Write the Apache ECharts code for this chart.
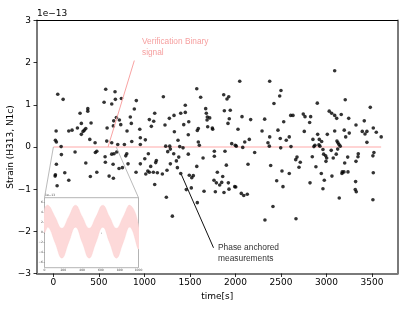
<!DOCTYPE html>
<html><head><meta charset="utf-8">
<script src="https://cdn.jsdelivr.net/npm/echarts@6/dist/echarts.min.js"></script>
<style>html,body{margin:0;padding:0;background:#fff}#c{width:415px;height:312px}</style>
</head><body><div id="c"></div>
<script>
// time [s]
const timeS = [48,107,575,677,681,557,747,641,293,378,378,692,663,725,414,307,740,659,590,264,356,340,326,205,169,30,809,307,400,458,586,22,33,641,707,780,85,238,477,461,696,
1575,1618,1208,911,889,1449,1673,845,1113,1399,1449,1680,1325,1274,1691,1717,1688,1054,1102,856,1487,1432,1076,1226,1695,1746,1750,949,1592,1581,1329,1482,955,1010,1369,861,1592,1603,955,1234,1278,1285,1388,1424,1256,1043,1322,1482,1768,
2047,2376,2500,2486,1871,1926,1907,2423,1878,1943,2072,2167,2321,2607,2632,2745,2764,2826,1932,1918,2530,2815,2028,2292,2467,2756,2376,2591,2492,2558,2152,2102,2851,2357,1959,1998,2009,2372,2080,2497,2610,2862,1885,2211,
3090,2899,3206,3481,3030,3057,3090,3112,3162,3244,3415,3324,3514,3195,3090,3250,3393,3423,3444,3547,2903,3009,3601,3211,2921,2947,3115,3126,3137,3151,3444,2873,2917,2928,3123,2961,3052,3521,3349,2969,3107,
88,568,641,666,806,795,33,356,571,656,820,758,721,125,22,19,477,406,612,659,169,41,
1004,1131,1124,1377,1351,1285,1644,1768,955,1069,1037,1054,1098,1142,1362,1575,1248,908,1015,1197,1399,1493,1537,1520,1801,1764,1790,1827,1113,1460,1515,1655,1779,1241,1581,1307,
1900,2138,2387,2676,2662,2712,2698,2844,1860,1849,1922,1929,1992,2003,1874,2064,2091,2130,2511,2591,2453,2522,2819,2412,2324,2665,
2991,3002,2994,3074,3233,3346,3510,3324,3200,2884,2943,3060,3173,3170,3192,3236,3514,2976,3320,2961,3316,3327,3140,3510];
// strain, in units of 1e-13
const strain = [1.25,1.13,1.37,1.31,1.13,1.06,1.15,1.02,0.80,0.91,0.85,0.70,0.62,0.64,0.57,0.56,0.53,0.50,0.45,0.45,0.44,0.40,0.37,0.40,0.38,0.38,0.38,0.30,0.18,0.10,0.14,0.16,0.12,0.10,0.06,0.06,0.01,-0.12,-0.10,-0.13,-0.12,
1.38,1.18,1.19,1.10,0.90,0.99,0.91,0.71,0.80,0.80,0.82,0.80,0.75,0.68,0.71,0.69,0.64,0.65,0.61,0.56,0.60,0.53,0.49,0.52,0.48,0.45,0.42,0.42,0.44,0.39,0.36,0.29,0.22,0.17,0.16,0.13,0.12,0.04,0.06,0.02,0.02,-0.05,0.01,-0.02,-0.11,-0.16,-0.16,-0.17,-0.10,
1.56,1.56,1.34,1.21,1.24,1.19,1.14,1.03,0.86,0.87,0.72,0.65,0.66,0.75,0.75,0.78,0.72,0.72,0.67,0.56,0.60,0.58,0.42,0.38,0.40,0.37,0.24,0.24,0.20,0.16,0.18,0.12,0.18,0.10,0.08,0.04,0.02,0.02,-0.01,-0.02,0.01,0.01,-0.10,-0.13,
1.81,1.04,1.12,0.94,0.85,0.80,0.75,0.68,0.77,0.68,0.62,0.52,0.45,0.40,0.38,0.33,0.37,0.31,0.37,0.35,0.30,0.30,0.24,0.24,0.18,0.13,0.14,0.10,0.06,0.02,0.11,0.04,0.05,0.02,-0.05,-0.06,-0.08,-0.13,-0.16,-0.17,-0.17,
-0.18,-0.23,-0.17,-0.16,-0.16,-0.21,-0.41,-0.38,-0.36,-0.41,-0.40,-0.49,-0.51,-0.61,-0.66,-0.69,-0.60,-0.70,-0.69,-0.74,-0.79,-0.92,
-0.28,-0.32,-0.37,-0.24,-0.33,-0.40,-0.26,-0.22,-0.40,-0.46,-0.57,-0.60,-0.60,-0.61,-0.49,-0.46,-0.55,-0.60,-0.64,-0.64,-0.63,-0.67,-0.68,-0.73,-0.60,-0.79,-0.85,-0.90,-0.89,-1.01,-0.97,-1.05,-1.06,-1.19,-1.32,-1.64,
-0.43,-0.41,-0.44,-0.24,-0.30,-0.36,-0.48,-0.23,-0.70,-0.84,-0.85,-1.00,-0.94,-0.95,-1.08,-1.10,-1.15,-1.12,-0.57,-0.63,-0.80,-0.94,-0.85,-1.41,-1.73,-1.70,
-0.21,-0.26,-0.34,-0.26,-0.24,-0.23,-0.21,-0.34,-0.38,-0.47,-0.63,-0.69,-0.59,-0.63,-0.59,-0.59,-0.61,-0.79,-0.82,-0.99,-1.01,-1.06,-1.21,-1.25];

const xTicks = [0,500,1000,1500,2000,2500,3000,3500];
const yTicks = [-3,-2,-1,0,1,2,3];
const signalLineX = [0,3600];
const signalLineY = [0,0];

// inset (verification binary signal band)
const insetX     = [0,40,112,185,257,330,402,475,547,620,692,765,837,910,1000];
const insetUpper = [4.7,5.5,3.2,0.9,3.2,5.5,3.2,0.9,3.2,5.5,3.2,0.9,3.2,5.5,1.6];
const insetLower = [0.0,1.1,-2.0,-5.1,-2.0,1.1,-2.0,-5.1,-2.0,1.1,-2.0,-5.1,-2.0,1.1,-3.3];
const insetXTicks = [0,200,400,600,800,1000];
const insetYTicks = [-6,-4,-2,0,2,4,6];
const zoomRegionX = [0,690];

const arrowSignal = [[600,0],[889,2.05]];
const arrowPhase = [[1405,-0.65],[1759,-2.39]];

const FONT = 'DejaVu Sans';
const minus = v => (v < 0 ? '\u2212' + Math.abs(v) : String(v));

const chart = echarts.init(document.getElementById('c'), null, {renderer:'canvas'});
const GRAY = '#7a7a7a';
chart.setOption({
  animation:false,
  backgroundColor:'#fff',
  grid:[
    {left:37, top:20.5, right:17.5, bottom:38.5, outerBoundsMode:'none', containLabel:false},
    {left:44.5, top:197.7, width:94, height:70, show:true, backgroundColor:'#fff', borderColor:'#a0a0a0', borderWidth:0.8, z:10, outerBoundsMode:'none', containLabel:false}
  ],
  xAxis:[
    {type:'value', gridIndex:0, min:-180, max:3780, position:'bottom',
     axisLine:{show:true, onZero:false, lineStyle:{color:GRAY, width:2}},
     axisTick:{show:true, length:3.5, customValues:xTicks, lineStyle:{color:'#000', width:0.8}},
     axisLabel:{customValues:xTicks, fontFamily:FONT, fontSize:9, color:'#000', margin:5, formatter:v=>String(v)},
     splitLine:{show:false},
     name:'time[s]', nameLocation:'middle', nameGap:19, nameMoveOverlap:false, nameTextStyle:{fontFamily:FONT, fontSize:9, color:'#000'}},
    {type:'value', gridIndex:0, min:-180, max:3780, position:'top',
     axisLine:{show:true, onZero:false, lineStyle:{color:'#000', width:1}},
     axisTick:{show:false}, axisLabel:{show:false}, splitLine:{show:false}},
    {type:'value', gridIndex:1, min:0, max:1000, position:'bottom', z:11,
     axisLine:{show:false}, axisTick:{show:true, length:1, customValues:insetXTicks, lineStyle:{color:'#666', width:0.5}},
     axisLabel:{customValues:insetXTicks, fontFamily:FONT, fontSize:3, color:'#444', margin:1.5, formatter:v=>String(v)},
     splitLine:{show:false}}
  ],
  yAxis:[
    {type:'value', gridIndex:0, min:-3, max:3, interval:1, position:'left',
     axisLine:{show:true, onZero:false, lineStyle:{color:GRAY, width:2}},
     axisTick:{show:true, length:3.5, lineStyle:{color:'#000', width:0.8}},
     axisLabel:{fontFamily:FONT, fontSize:9, color:'#000', margin:6, formatter:minus},
     splitLine:{show:false},
     name:'Strain (H313, N1c)', nameLocation:'middle', nameRotate:90, nameGap:22, nameMoveOverlap:false,
     nameTextStyle:{fontFamily:FONT, fontSize:9, color:'#000'}},
    {type:'value', gridIndex:0, min:-3, max:3, position:'right',
     axisLine:{show:true, onZero:false, lineStyle:{color:GRAY, width:2}},
     axisTick:{show:false}, axisLabel:{show:false}, splitLine:{show:false}},
    {type:'value', gridIndex:1, min:-7, max:7, position:'left', z:11,
     axisLine:{show:false}, axisTick:{show:true, length:1, customValues:insetYTicks, lineStyle:{color:'#666', width:0.5}},
     axisLabel:{customValues:insetYTicks, fontFamily:FONT, fontSize:3, color:'#444', margin:1.5, formatter:minus},
     splitLine:{show:false}}
  ],
  series:[
    {type:'line', xAxisIndex:0, yAxisIndex:0, data:signalLineX.map((x,i)=>[x, signalLineY[i]]),
     symbol:'none', lineStyle:{color:'#ffd4d4', width:2}, z:1, silent:true,
     markLine:{silent:true, symbol:['none','arrow'], symbolSize:[0,5], label:{show:false},
       data:[[{coord:arrowSignal[0], lineStyle:{color:'#f9a3a3', width:1, type:'solid'}, itemStyle:{color:'#f9a3a3'}},{coord:arrowSignal[1]}]]}},
    {type:'scatter', xAxisIndex:0, yAxisIndex:0, data:timeS.map((t,i)=>[t, strain[i]]),
     symbolSize:3.6, itemStyle:{color:'#000'}, z:3, silent:true,
     markLine:{silent:true, symbol:['none','arrow'], symbolSize:[0,5], label:{show:false},
       data:[[{coord:arrowPhase[0], lineStyle:{color:'#111', width:1, type:'solid'}, itemStyle:{color:'#111'}},{coord:arrowPhase[1]}]]}},
    {type:'custom', coordinateSystem:'cartesian2d', xAxisIndex:2, yAxisIndex:2, data:[[0,0]], clip:true, z:12, silent:true,
     renderItem:(params, api)=>{
       const up = insetX.map((x,i)=>api.coord([x, insetUpper[i]]));
       const lo = insetX.map((x,i)=>api.coord([x, insetLower[i]])).reverse();
       return {type:'polygon', shape:{points:up.concat(lo), smooth:0.45}, style:{fill:'#fdd9d9', stroke:'#fcd0d0', lineWidth:0.3}};
     }}
  ]
});

const p0 = chart.convertToPixel({xAxisIndex:0, yAxisIndex:0}, [zoomRegionX[0], 0]);
const p1 = chart.convertToPixel({xAxisIndex:0, yAxisIndex:0}, [zoomRegionX[1], 0]);
const c0 = chart.convertToPixel({xAxisIndex:2, yAxisIndex:2}, [0, 7]);
const c1 = chart.convertToPixel({xAxisIndex:2, yAxisIndex:2}, [1000, 7]);

chart.setOption({
  graphic:[
    {type:'line', shape:{x1:c0[0], y1:c0[1], x2:p0[0], y2:p0[1]}, style:{stroke:'#a8a8a8', lineWidth:0.8}, z:9, silent:true},
    {type:'line', shape:{x1:c1[0], y1:c1[1], x2:p1[0], y2:p1[1]}, style:{stroke:'#a8a8a8', lineWidth:0.8}, z:9, silent:true},
    {type:'text', left:37, top:9.5, style:{text:'1e\u221213', fontFamily:FONT, fontSize:9, fill:'#000'}, silent:true},
    {type:'text', left:142, top:37, style:{text:'Verification Binary\nsignal', fontFamily:'Liberation Sans', fontSize:8.3, lineHeight:10.4, fill:'#f6a0a0'}, silent:true},
    {type:'text', left:218, top:242.4, style:{text:'Phase anchored\nmeasurements', fontFamily:'Liberation Sans', fontSize:8.4, lineHeight:10.6, fill:'#333'}, silent:true},
    {type:'text', left:45, top:194, style:{text:'1e\u221213', fontFamily:FONT, fontSize:3, fill:'#444'}, z:20, silent:true}
  ]
});
</script></body></html>
